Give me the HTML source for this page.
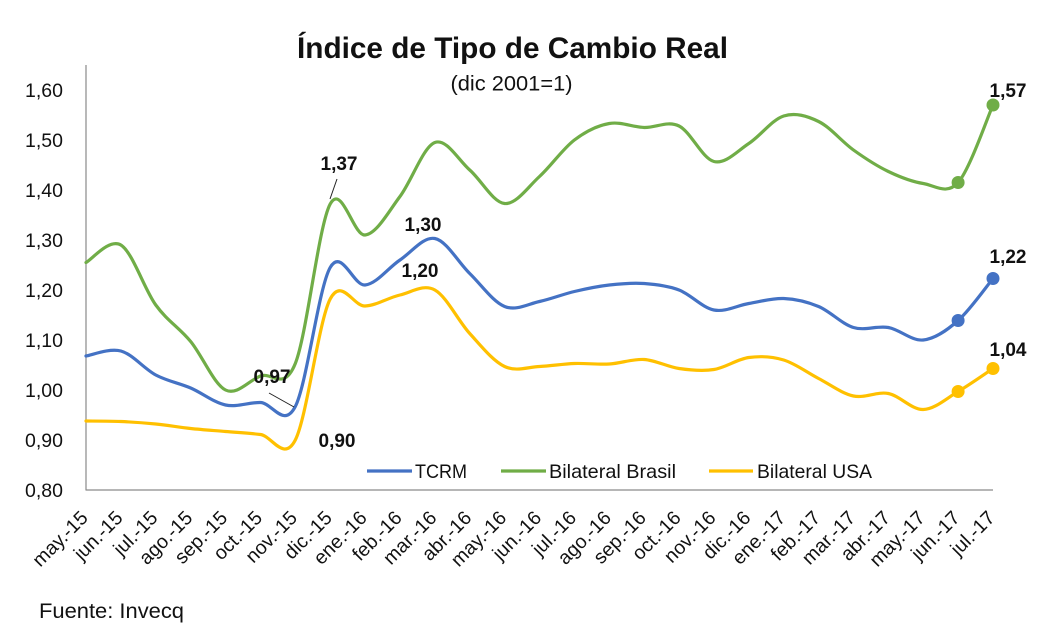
<!DOCTYPE html>
<html>
<head>
<meta charset="utf-8">
<style>
  html,body{margin:0;padding:0;background:#fff;}
  svg{display:block;}
  text{font-family:"Liberation Sans",sans-serif;fill:#111;}
</style>
</head>
<body>
<svg id="chart" width="1055" height="634" viewBox="0 0 1055 634" xmlns="http://www.w3.org/2000/svg">
  <rect x="0" y="0" width="1055" height="634" fill="#fff"/>
  <!-- Title -->
  <text x="512.5" y="58" font-size="30" font-weight="bold" text-anchor="middle" textLength="431" lengthAdjust="spacingAndGlyphs">Índice de Tipo de Cambio Real</text>
  <text x="511.5" y="90.5" font-size="21" text-anchor="middle" textLength="122" lengthAdjust="spacingAndGlyphs">(dic 2001=1)</text>

  <!-- Axes -->
  <line x1="86" y1="65" x2="86" y2="490.5" stroke="#8a8a8a" stroke-width="1.2"/>
  <line x1="86" y1="490" x2="993" y2="490" stroke="#8a8a8a" stroke-width="1.2"/>

  <!-- Y tick labels -->
  <g font-size="19.5" text-anchor="end">
    <text x="63" y="97">1,60</text>
    <text x="63" y="147">1,50</text>
    <text x="63" y="197">1,40</text>
    <text x="63" y="247">1,30</text>
    <text x="63" y="297">1,20</text>
    <text x="63" y="347">1,10</text>
    <text x="63" y="397">1,00</text>
    <text x="63" y="447">0,90</text>
    <text x="63" y="497">0,80</text>
  </g>

  <!-- X tick labels -->
  <g font-size="19.5" text-anchor="end">
    <text transform="translate(89,519) rotate(-45)">may.-15</text>
    <text transform="translate(123.9,519) rotate(-45)">jun.-15</text>
    <text transform="translate(158.8,519) rotate(-45)">jul.-15</text>
    <text transform="translate(193.7,519) rotate(-45)">ago.-15</text>
    <text transform="translate(228.5,519) rotate(-45)">sep.-15</text>
    <text transform="translate(263.4,519) rotate(-45)">oct.-15</text>
    <text transform="translate(298.3,519) rotate(-45)">nov.-15</text>
    <text transform="translate(333.2,519) rotate(-45)">dic.-15</text>
    <text transform="translate(368.1,519) rotate(-45)">ene.-16</text>
    <text transform="translate(403,519) rotate(-45)">feb.-16</text>
    <text transform="translate(437.8,519) rotate(-45)">mar.-16</text>
    <text transform="translate(472.7,519) rotate(-45)">abr.-16</text>
    <text transform="translate(507.6,519) rotate(-45)">may.-16</text>
    <text transform="translate(542.5,519) rotate(-45)">jun.-16</text>
    <text transform="translate(577.4,519) rotate(-45)">jul.-16</text>
    <text transform="translate(612.3,519) rotate(-45)">ago.-16</text>
    <text transform="translate(647.2,519) rotate(-45)">sep.-16</text>
    <text transform="translate(682,519) rotate(-45)">oct.-16</text>
    <text transform="translate(716.9,519) rotate(-45)">nov.-16</text>
    <text transform="translate(751.8,519) rotate(-45)">dic.-16</text>
    <text transform="translate(786.7,519) rotate(-45)">ene.-17</text>
    <text transform="translate(821.6,519) rotate(-45)">feb.-17</text>
    <text transform="translate(856.5,519) rotate(-45)">mar.-17</text>
    <text transform="translate(891.4,519) rotate(-45)">abr.-17</text>
    <text transform="translate(926.2,519) rotate(-45)">may.-17</text>
    <text transform="translate(961.1,519) rotate(-45)">jun.-17</text>
    <text transform="translate(996,519) rotate(-45)">jul.-17</text>
  </g>

  <!-- Series -->
  <path id="pGreen" d="" fill="none" stroke="#70AD47" stroke-width="3.2" stroke-linejoin="round" stroke-linecap="round"/>
  <path id="pBlue" d="" fill="none" stroke="#4472C4" stroke-width="3.2" stroke-linejoin="round" stroke-linecap="round"/>
  <path id="pYellow" d="" fill="none" stroke="#FFC000" stroke-width="3.2" stroke-linejoin="round" stroke-linecap="round"/>

  <!-- Markers -->
  <circle cx="958.1" cy="182.5" r="6.5" fill="#70AD47"/>
  <circle cx="993" cy="105" r="6.5" fill="#70AD47"/>
  <circle cx="958.1" cy="320.5" r="6.5" fill="#4472C4"/>
  <circle cx="993" cy="278.5" r="6.5" fill="#4472C4"/>
  <circle cx="958.1" cy="391.5" r="6.5" fill="#FFC000"/>
  <circle cx="993" cy="368.5" r="6.5" fill="#FFC000"/>

  <!-- Leader lines -->
  <line x1="337" y1="179" x2="330" y2="199" stroke="#222" stroke-width="1"/>
  <line x1="269" y1="393" x2="294" y2="407" stroke="#222" stroke-width="1"/>

  <!-- Data labels -->
  <g font-size="19" font-weight="bold" text-anchor="middle">
    <text x="339" y="170">1,37</text>
    <text x="423" y="231">1,30</text>
    <text x="420" y="277">1,20</text>
    <text x="272" y="383">0,97</text>
    <text x="337" y="447">0,90</text>
    <text x="1008" y="97">1,57</text>
    <text x="1008" y="263">1,22</text>
    <text x="1008" y="356">1,04</text>
  </g>

  <!-- Legend -->
  <line x1="367" y1="471" x2="412" y2="471" stroke="#4472C4" stroke-width="3.2"/>
  <text x="415" y="478" font-size="19.5" textLength="52" lengthAdjust="spacingAndGlyphs">TCRM</text>
  <line x1="501" y1="471" x2="546" y2="471" stroke="#70AD47" stroke-width="3.2"/>
  <text x="549" y="478" font-size="19.5" textLength="127" lengthAdjust="spacingAndGlyphs">Bilateral Brasil</text>
  <line x1="709" y1="471" x2="753" y2="471" stroke="#FFC000" stroke-width="3.2"/>
  <text x="757" y="478" font-size="19.5" textLength="115" lengthAdjust="spacingAndGlyphs">Bilateral USA</text>

  <!-- Source -->
  <text x="39" y="618" font-size="21" textLength="145" lengthAdjust="spacingAndGlyphs">Fuente: Invecq</text>
</svg>
<script>
(function(){
  var X0=86, DX=34.885;
  function Y(v){return 390-(v-1)*500;}
  function f(n){return n.toFixed(2);}
  function path(d){
    var p=d.map(function(v,i){return [X0+i*DX, Y(v)];});
    var s="M"+f(p[0][0])+","+f(p[0][1]);
    for(var i=0;i<p.length-1;i++){
      var p0=p[i-1]||p[i], p1=p[i], p2=p[i+1], p3=p[i+2]||p[i+1];
      var c1=[p1[0]+(p2[0]-p0[0])/6, p1[1]+(p2[1]-p0[1])/6];
      var c2=[p2[0]-(p3[0]-p1[0])/6, p2[1]-(p3[1]-p1[1])/6];
      s+=" C"+f(c1[0])+","+f(c1[1])+" "+f(c2[0])+","+f(c2[1])+" "+f(p2[0])+","+f(p2[1]);
    }
    return s;
  }
  var green=[1.255,1.29,1.17,1.097,1.00,1.028,1.053,1.372,1.31,1.387,1.495,1.44,1.373,1.427,1.50,1.533,1.525,1.528,1.457,1.493,1.548,1.537,1.48,1.437,1.413,1.415,1.57];
  var blue=[1.068,1.078,1.03,1.004,0.97,0.975,0.967,1.245,1.21,1.26,1.303,1.233,1.167,1.177,1.197,1.21,1.213,1.20,1.16,1.173,1.183,1.167,1.125,1.125,1.10,1.139,1.223];
  var yellow=[0.938,0.937,0.932,0.923,0.917,0.911,0.90,1.182,1.168,1.19,1.20,1.113,1.047,1.047,1.053,1.052,1.061,1.043,1.041,1.065,1.06,1.023,0.988,0.993,0.961,0.997,1.043];
  document.getElementById("pGreen").setAttribute("d",path(green));
  document.getElementById("pBlue").setAttribute("d",path(blue));
  document.getElementById("pYellow").setAttribute("d",path(yellow));
})();
</script>
</body>
</html>
